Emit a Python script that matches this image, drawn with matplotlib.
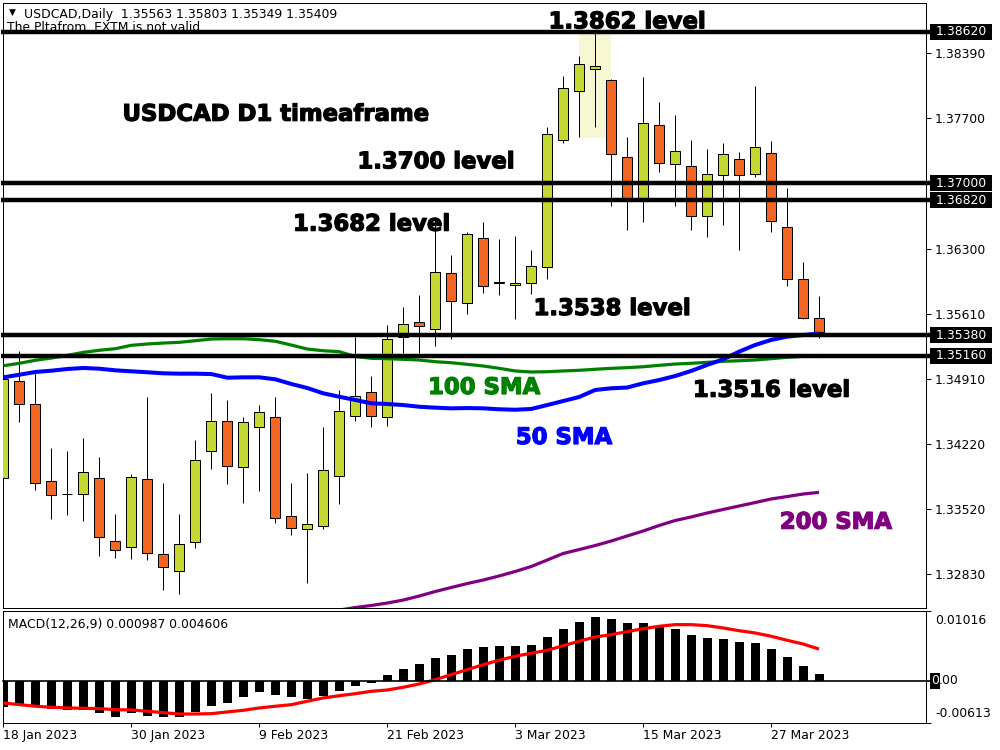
import matplotlib
matplotlib.use("Agg")
import matplotlib.pyplot as plt
import matplotlib.patheffects as pe
from matplotlib.patches import Rectangle
from matplotlib.transforms import blended_transform_factory as btf, offset_copy

plt.rcParams['font.family'] = ['DejaVu Sans']

# ---------------- data ----------------
opens = [1.33852, 1.34887, 1.34642, 1.33820, 1.33681, 1.33681, 1.33852, 1.33179, 1.33115, 1.33841,
         1.33040, 1.32859, 1.33168, 1.34140, 1.34460, 1.33969, 1.34396, 1.34503, 1.33446, 1.33307,
         1.33339, 1.33873, 1.34514, 1.34770, 1.34503, 1.35357, 1.35518, 1.35443, 1.36041, 1.35720,
         1.36414, 1.35934, 1.35920, 1.35934, 1.36111, 1.37464, 1.37987, 1.38225, 1.38102, 1.37279,
         1.36837, 1.37621, 1.37205, 1.37183, 1.36649, 1.37087, 1.37258, 1.37098, 1.37322, 1.36532,
         1.35977, 1.35563]
highs = [1.35008, 1.35211, 1.34973, 1.34175, 1.34143, 1.34282, 1.34079, 1.33470, 1.33898, 1.34720,
         1.33802, 1.33470, 1.34261, 1.34763, 1.34688, 1.34506, 1.34634, 1.34720, 1.33802, 1.33908,
         1.34400, 1.34795, 1.35364, 1.34941, 1.35489, 1.35684, 1.35809, 1.36645, 1.36236, 1.36479,
         1.36592, 1.36410, 1.36439, 1.36290, 1.37600, 1.38148, 1.38361, 1.38620, 1.38119, 1.37496,
         1.38137, 1.37870, 1.37731, 1.37464, 1.37368, 1.37432, 1.37336, 1.38041, 1.37453, 1.36952,
         1.36161, 1.35803]
lows = [1.33495, 1.34456, 1.33727, 1.33420, 1.33463, 1.33399, 1.33025, 1.33004, 1.32993, 1.32983,
        1.32662, 1.32620, 1.33104, 1.33954, 1.33794, 1.33591, 1.33719, 1.33378, 1.33250, 1.32737,
        1.33314, 1.33574, 1.34467, 1.34403, 1.34413, 1.35187, 1.35187, 1.35268, 1.35336, 1.35606,
        1.35834, 1.35809, 1.35550, 1.35816, 1.35983, 1.37435, 1.37499, 1.37606, 1.36763, 1.36503,
        1.36592, 1.37122, 1.36763, 1.36503, 1.36432, 1.36560, 1.36293, 1.37072, 1.36485, 1.35908,
        1.35555, 1.35349]
closes = [1.34912, 1.34642, 1.33798, 1.33670, 1.33679, 1.33916, 1.33222, 1.33083, 1.33862, 1.33051,
          1.32901, 1.33147, 1.34044, 1.34460, 1.33980, 1.34450, 1.34556, 1.33425, 1.33318, 1.33361,
          1.33937, 1.34567, 1.34734, 1.34514, 1.35336, 1.35496, 1.35478, 1.36058, 1.35745, 1.36457,
          1.35905, 1.35952, 1.35941, 1.36115, 1.37525, 1.38016, 1.38272, 1.38254, 1.37311, 1.36837,
          1.37642, 1.37215, 1.37343, 1.36649, 1.37098, 1.37311, 1.37087, 1.37389, 1.36596, 1.35977,
          1.35560, 1.35409]

sma50 = [1.34930, 1.34958, 1.34987, 1.35001, 1.35019, 1.35030, 1.35022, 1.35005, 1.34994, 1.34984,
         1.34973, 1.34969, 1.34969, 1.34965, 1.34926, 1.34930, 1.34930, 1.34909, 1.34859, 1.34816,
         1.34759, 1.34723, 1.34688, 1.34653, 1.34645, 1.34634, 1.34616, 1.34606, 1.34599, 1.34602,
         1.34599, 1.34589, 1.34584, 1.34592, 1.34634, 1.34677, 1.34720, 1.34795, 1.34813, 1.34821,
         1.34866, 1.34901, 1.34944, 1.34998, 1.35062, 1.35122, 1.35204, 1.35275, 1.35329, 1.35364,
         1.35382, 1.35398]
sma100 = [1.35054, 1.35080, 1.35112, 1.35136, 1.35165, 1.35197, 1.35219, 1.35236, 1.35272, 1.35286,
          1.35296, 1.35304, 1.35321, 1.35339, 1.35342, 1.35342, 1.35332, 1.35315, 1.35275, 1.35232,
          1.35214, 1.35204, 1.35152, 1.35133, 1.35129, 1.35122, 1.35115, 1.35097, 1.35086, 1.35069,
          1.35051, 1.35026, 1.34998, 1.34987, 1.34990, 1.34998, 1.35005, 1.35016, 1.35026, 1.35033,
          1.35043, 1.35058, 1.35072, 1.35080, 1.35090, 1.35101, 1.35107, 1.35115, 1.35129, 1.35144,
          1.35154, 1.35163]
sma200_first_bar = 20
sma200 = [1.32424, 1.32445, 1.32472, 1.32494, 1.32520, 1.32552, 1.32595, 1.32643, 1.32686, 1.32728,
          1.32766, 1.32809, 1.32857, 1.32910, 1.32979, 1.33049, 1.33091, 1.33134, 1.33182, 1.33236,
          1.33289, 1.33348, 1.33401, 1.33439, 1.33481, 1.33519, 1.33556, 1.33593, 1.33631, 1.33657,
          1.33684, 1.33702]

macd_main = [-0.00388, -0.00340, -0.00359, -0.00413, -0.00432, -0.00423, -0.00475, -0.00525, -0.00475, -0.00510,
             -0.00534, -0.00534, -0.00456, -0.00365, -0.00325, -0.00242, -0.00169, -0.00204, -0.00233, -0.00263,
             -0.00219, -0.00146, -0.00073, -0.00029, 0.00088, 0.00171, 0.00244, 0.00331, 0.00375, 0.00462,
             0.00491, 0.00506, 0.00506, 0.00521, 0.00637, 0.00754, 0.00856, 0.00929, 0.00900, 0.00842,
             0.00842, 0.00783, 0.00754, 0.00666, 0.00623, 0.00608, 0.00564, 0.00550, 0.00462, 0.00346,
             0.00214, 0.000987]
macd_signal = [-0.00325, -0.00350, -0.00373, -0.00388, -0.00398, -0.00403, -0.00408, -0.00423, -0.00427, -0.00446,
               -0.00467, -0.00486, -0.00486, -0.00481, -0.00456, -0.00432, -0.00398, -0.00373, -0.00350, -0.00300,
               -0.00252, -0.00219, -0.00190, -0.00155, -0.00136, -0.00096, -0.00048, 0.00015, 0.00088, 0.00160,
               0.00233, 0.00298, 0.00356, 0.00400, 0.00443, 0.00510, 0.00575, 0.00637, 0.00671, 0.00715,
               0.00758, 0.00793, 0.00817, 0.00817, 0.00802, 0.00769, 0.00729, 0.00696, 0.00648, 0.00589,
               0.00535, 0.004606]

levels = [1.38620, 1.37000, 1.36820, 1.35380, 1.35160]
level_labels = ["1.38620", "1.37000", "1.36820", "1.35380", "1.35160"]
price_ticks = [1.38390, 1.37700, 1.36300, 1.35610, 1.34910, 1.34220, 1.33520, 1.32830]
price_tick_labels = ["1.38390", "1.37700", "1.36300", "1.35610", "1.34910", "1.34220", "1.33520", "1.32830"]
macd_ticks = [0.01016, 0.0, -0.00613]
macd_tick_labels = ["0.01016", "0.00", "-0.00613"]
date_tick_bars = [0, 8, 16, 24, 32, 40, 48]
date_tick_labels = ["18 Jan 2023", "30 Jan 2023", "9 Feb 2023", "21 Feb 2023",
                    "3 Mar 2023", "15 Mar 2023", "27 Mar 2023"]
highlight_bars = (36, 38)
highlight_prices = (1.37489, 1.38620)

# ---------------- layout ----------------
W, H = 1000, 750
fig = plt.figure(figsize=(W / 100, H / 100), dpi=100)
fig.patch.set_facecolor('white')

BULL = '#c3d830'
BEAR = '#f26522'
PX = 0.72  # one pixel in points

ax = fig.add_axes([3 / W, 1 - 608 / H, 923 / W, 605 / H])
ax2 = fig.add_axes([3 / W, 1 - 722.7 / H, 923 / W, 111.7 / H])
XLIM = (-0.03, 57.69)
ax.set_xlim(*XLIM)
ax.set_ylim(1.32467, 1.38927)
ax2.set_xlim(*XLIM)
ax2.set_ylim(-0.00613, 0.01016)

for a in (ax, ax2):
    for s in a.spines.values():
        s.set_linewidth(PX)
        s.set_color('black')

# highlight box
ax.add_patch(Rectangle((highlight_bars[0], highlight_prices[0]),
                       highlight_bars[1] - highlight_bars[0],
                       highlight_prices[1] - highlight_prices[0],
                       facecolor='#f7f7d4', edgecolor='none', zorder=0.5))

# candles
bw = 0.625
for i, (o, h, l, c) in enumerate(zip(opens, highs, lows, closes)):
    ax.vlines(i, l, h, color='black', lw=PX, zorder=2)
    col = BULL if c >= o else BEAR
    ax.add_patch(Rectangle((i - bw / 2, min(o, c)), bw, abs(c - o),
                           facecolor=col, edgecolor='black', lw=PX, zorder=3))

x_all = list(range(len(closes)))
ax.plot(x_all, sma100, color='#008000', lw=2.3, zorder=4, solid_capstyle='butt')
ax.plot(x_all, sma50, color='#0000ff', lw=2.9, zorder=4, solid_capstyle='butt')
ax.plot(list(range(sma200_first_bar, sma200_first_bar + len(sma200))), sma200,
        color='#800080', lw=2.3, zorder=4, solid_capstyle='butt')

# horizontal level lines and price boxes
tr_lv = btf(fig.transFigure, ax.transData)
ylo, yhi = ax.get_ylim()
box_h = 16 * (yhi - ylo) / 605
for lv, lab in zip(levels, level_labels):
    ax.plot([1 / W, 930 / W], [lv, lv], transform=tr_lv, clip_on=False,
            color='black', lw=3.2, zorder=6, solid_capstyle='butt')
    ax.add_patch(Rectangle((930 / W, lv - box_h / 2), 62 / W, box_h, transform=tr_lv,
                           facecolor='black', edgecolor='none', clip_on=False, zorder=6))
    ax.text(961 / W, lv, lab, transform=tr_lv, color='white', fontsize=8.9,
            ha='center', va='center', clip_on=False, zorder=7)

# price axis
ax.yaxis.tick_right()
ax.set_yticks(price_ticks)
ax.set_yticklabels(price_tick_labels)
ax.tick_params(axis='y', direction='out', length=3.6, width=PX, pad=2.9, labelsize=8.9)
ax.set_xticks([])

# annotations
def bold_text(x, y, s, color):
    ax.text(x, y, s, color=color, fontsize=16.4, fontweight='bold', ha='center',
            va='baseline', zorder=8,
            path_effects=[pe.withStroke(linewidth=0.9, foreground=color)])

bold_text(39.0, 1.38657, "1.3862 level", 'black')
bold_text(17.03, 1.37670, "USDCAD D1 timeaframe", 'black')
bold_text(27.05, 1.37162, "1.3700 level", 'black')
bold_text(23.02, 1.36496, "1.3682 level", 'black')
bold_text(38.06, 1.35595, "1.3538 level", 'black')
bold_text(30.06, 1.34752, "100 SMA", '#008000')
bold_text(48.04, 1.34723, "1.3516 level", 'black')
bold_text(35.05, 1.34218, "50 SMA", '#0000ff')
bold_text(52.05, 1.33314, "200 SMA", '#800080')

# header texts
ax.text(8.5 / W, 1 - 12.5 / H, "\u25bc", transform=fig.transFigure, fontsize=6.5,
        va='center', ha='left', zorder=1)
ax.text(24 / W, 1 - 18.3 / H, "USDCAD,Daily  1.35563 1.35803 1.35349 1.35409",
        transform=fig.transFigure, fontsize=8.9, va='baseline', ha='left', zorder=1)
ax.text(7 / W, 1 - 31 / H, "The Pltafrom  EXTM is not valid",
        transform=fig.transFigure, fontsize=8.9, va='baseline', ha='left', zorder=1)

# ---------------- MACD panel ----------------
ax2.bar(x_all, macd_main, width=0.5625, color='black', zorder=2)
ax2.plot(x_all, macd_signal, color='#ff0000', lw=2.3, zorder=3, solid_capstyle='butt')
tr_m = btf(fig.transFigure, ax2.transData)
ax2.plot([3 / W, 930 / W], [0, 0], transform=tr_m, clip_on=False, color='black', lw=1.2, zorder=4)

ax2.yaxis.tick_right()
ax2.set_yticks(macd_ticks)
ax2.set_yticklabels([''] * len(macd_ticks))
ax2.tick_params(axis='y', direction='out', length=3.6, width=PX)
offsets = [-10, 0, 9]
mbox_h = 16 * (0.01016 + 0.00613) / 111.7
for val, lab, off in zip(macd_ticks, macd_tick_labels, offsets):
    t = offset_copy(tr_m, fig=fig, x=0, y=off, units='dots')
    if lab == "0.00":
        ax2.add_patch(Rectangle((930 / W, val - mbox_h / 2), 10 / W, mbox_h, transform=tr_m,
                                facecolor='black', edgecolor='none', clip_on=False, zorder=5))
        ax2.text(931 / W, val, "0", transform=t, fontsize=8.9, va='center', ha='left',
                 color='white', clip_on=False, zorder=6)
        ax2.text(939 / W, val, ".00", transform=t, fontsize=8.9, va='center', ha='left',
                 color='black', clip_on=False, zorder=6)
    else:
        ax2.text(935 / W, val, lab, transform=t, fontsize=8.9, va='center', ha='left',
                 color='black', clip_on=False)

ax2.set_xticks(date_tick_bars)
ax2.set_xticklabels(date_tick_labels)
ax2.tick_params(axis='x', direction='out', length=2.9, width=PX, pad=1.4, labelsize=8.9)
for lbl in ax2.get_xticklabels():
    lbl.set_ha('left')

ax2.text(8 / W, 1 - 628 / H, "MACD(12,26,9) 0.000987 0.004606", transform=fig.transFigure,
         fontsize=8.9, va='baseline', ha='left', zorder=5)

fig.savefig("out.png", dpi=100)
